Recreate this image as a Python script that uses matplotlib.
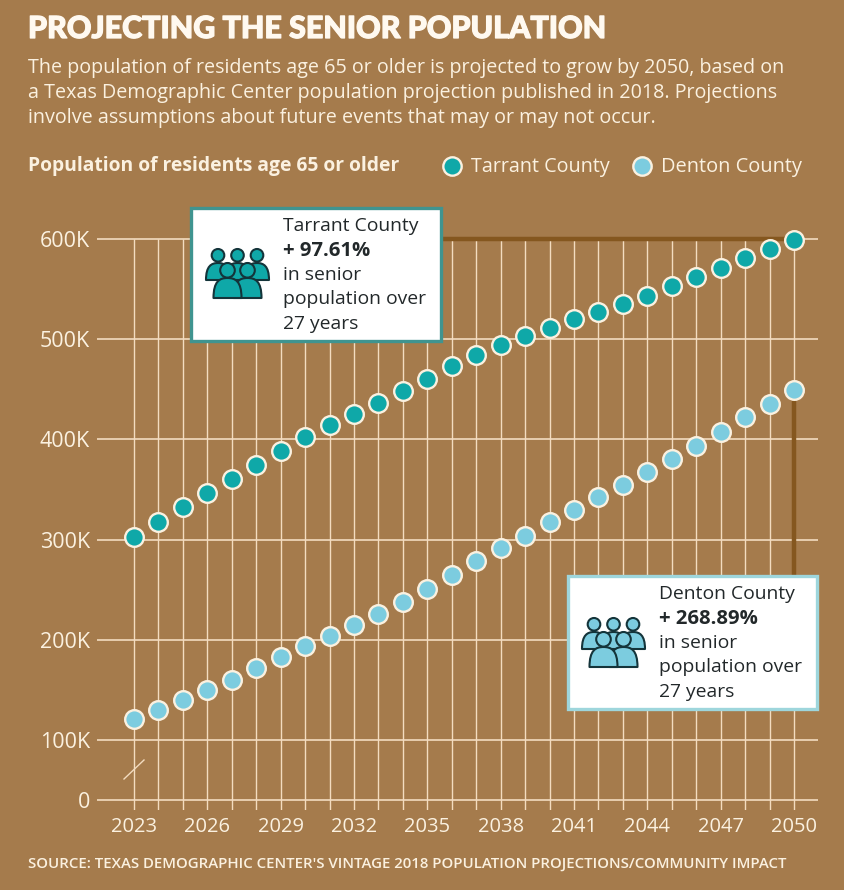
import matplotlib
matplotlib.use("Agg")
import matplotlib.pyplot as plt
from matplotlib.patches import Rectangle, Circle, PathPatch
from matplotlib.path import Path
import matplotlib.patheffects as pe
import numpy as np

years = list(range(2023, 2051))
tarrant = [303, 317, 332, 346, 360, 374, 388, 402, 414, 425, 436, 448, 460, 473,
           484, 494, 503, 511, 520, 527, 535, 543, 553, 562, 571, 581, 590, 599]
denton = [121, 130, 140, 150, 160, 172, 183, 194, 204, 215, 226, 238, 251, 265,
          279, 292, 304, 317, 329, 342, 354, 367, 380, 393, 407, 422, 435, 449]
y_ticks = [0, 100, 200, 300, 400, 500, 600]
y_labels = ["0", "100K", "200K", "300K", "400K", "500K", "600K"]
x_ticks = list(range(2023, 2051, 3))

BG = "#a57b4c"
GRID = "#f3dcc0"
CREAM = "#fbf1e0"
DARK = "#85571f"
TEAL = "#0fa8a8"
LBLUE = "#7cccdf"
INK = "#14343a"
FONT = "Open Sans"
W, H = 844, 890
plt.rcParams["font.family"] = [FONT, "DejaVu Sans"]

fig = plt.figure(figsize=(W / 100, H / 100), dpi=100, facecolor=BG)

L, R, T, B = 97, 818, 239, 810
ax = fig.add_axes([L / W, 1 - B / H, (R - L) / W, (B - T) / H], facecolor="none")


def fwd(v):
    v = np.asarray(v, dtype=float)
    return np.where(v >= 100, v, 40 + 0.6 * v)


def inv(u):
    u = np.asarray(u, dtype=float)
    return np.where(u >= 100, u, (u - 40) / 0.6)


ax.set_yscale("function", functions=(fwd, inv))
px_per_year = (794 - 134) / 27
ax.set_xlim(2023 + (L - 134) / px_per_year, 2023 + (R - 134) / px_per_year)
ax.set_ylim(float(inv(40 - 10)), 600)

for s in ax.spines.values():
    s.set_visible(False)
ax.set_yticks(y_ticks, y_labels)
ax.set_xticks(x_ticks)
ax.tick_params(length=0, colors=CREAM)
ax.tick_params(axis="y", labelsize=15.5, pad=5)
ax.tick_params(axis="x", labelsize=14.5, pad=5)
for lab in ax.get_yticklabels() + ax.get_xticklabels():
    lab.set_fontweight("medium")

for yr in years:
    ax.plot([yr, yr], [ax.get_ylim()[0], 600], color=GRID, lw=1.0, zorder=1,
            solid_capstyle="butt")
for v in y_ticks:
    ax.plot(ax.get_xlim(), [v, v], color=GRID, lw=1.2, zorder=1, clip_on=False,
            solid_capstyle="butt")

ax.plot([2035.0, 2050], [600, 600], color=DARK, lw=3.2, zorder=2, clip_on=False,
        solid_capstyle="butt")
ax.plot([2050, 2050], [449, 190], color=DARK, lw=3.2, zorder=2, solid_capstyle="butt")

ax.plot(years, tarrant, ls="none", marker="o", ms=13.4, mfc=TEAL, mec=CREAM, mew=1.7,
        zorder=4, clip_on=False)
ax.plot(years, denton, ls="none", marker="o", ms=13.4, mfc=LBLUE, mec=CREAM, mew=1.7,
        zorder=4, clip_on=False)

ov = fig.add_axes([0, 0, 1, 1], facecolor="none")
ov.set_xlim(0, W)
ov.set_ylim(H, 0)
ov.axis("off")

ov.plot([124, 144], [779, 760], color=GRID, lw=1.0, zorder=3)

title = ov.text(28, 29, "PROJECTING THE SENIOR POPULATION", fontsize=21.9, fontweight="black",
                family="Lato", color="#fff9f0", va="center", ha="left")
title.set_path_effects([pe.withStroke(linewidth=0.9, foreground="#fff9f0")])
for i, line in enumerate([
    "The population of residents age 65 or older is projected to grow by 2050, based on",
    "a Texas Demographic Center population projection published in 2018. Projections",
    "involve assumptions about future events that may or may not occur.",
]):
    ov.text(28, 68.5 + i * 24.5, line, fontsize=14.2, color=CREAM, va="center", ha="left")

ov.text(28, 166, "Population of residents age 65 or older", fontsize=13.9, fontweight="bold",
        color=CREAM, va="center", ha="left")
ov.scatter([452], [166], s=175, color=TEAL, edgecolor=CREAM, linewidth=1.7, zorder=3)
ov.text(471, 167, "Tarrant County", fontsize=14.2, color=CREAM, va="center")
ov.scatter([642], [166], s=175, color=LBLUE, edgecolor=CREAM, linewidth=1.7, zorder=3)
ov.text(661, 167, "Denton County", fontsize=14.4, color=CREAM, va="center")
ov.text(28, 864, "SOURCE: TEXAS DEMOGRAPHIC CENTER'S VINTAGE 2018 POPULATION PROJECTIONS/COMMUNITY IMPACT",
        fontsize=10.8, fontweight="semibold", color=CREAM, va="center")


def person(cx, top, r, bw, body_top, body_bot, color, z):
    body = Path([(cx - bw, body_bot), (cx - bw, body_top + 3), (cx - bw * 0.55, body_top),
                 (cx, body_top), (cx + bw * 0.55, body_top), (cx + bw, body_top + 3),
                 (cx + bw, body_bot), (cx - bw, body_bot)],
                [Path.MOVETO, Path.CURVE4, Path.CURVE4, Path.CURVE4, Path.CURVE4, Path.CURVE4,
                 Path.CURVE4, Path.CLOSEPOLY])
    ov.add_patch(PathPatch(body, fc=color, ec=INK, lw=1.5, zorder=z, joinstyle="round"))
    ov.add_patch(Circle((cx, top + r), r, fc=color, ec=INK, lw=1.5, zorder=z))


def icon(ox, oy, color):
    for dx in (0, 19.5, 39):
        person(ox + dx, oy, 6.3, 12, oy + 14, oy + 31, color, 7)
    person(ox + 29.5, oy + 14, 7.3, 14, oy + 29, oy + 49, color, 7.2)
    person(ox + 9.5, oy + 14, 7.3, 14, oy + 29, oy + 49, color, 7.4)


def callout(x0, y0, x1, y1, edge, color, icon_x, icon_y, tx, lines):
    ov.add_patch(Rectangle((x0, y0), x1 - x0, y1 - y0, fc="white", ec=edge, lw=2.4, zorder=6))
    icon(icon_x, icon_y, color)
    ty = y0 + 18
    for i, (s, bold) in enumerate(lines):
        ov.text(tx, ty + i * 24.5, s, fontsize=14.6 if bold else 13.9, color="#22282a",
                va="center", ha="left", fontweight="bold" if bold else "normal", zorder=8)


callout(191, 208, 441, 341, "#3f9490", TEAL, 218, 249, 283, [
    ("Tarrant County", False), ("+ 97.61%", True), ("in senior", False),
    ("population over", False), ("27 years", False)])
callout(568, 576, 817, 709, "#9ed6dc", LBLUE, 594, 618, 659, [
    ("Denton County", False), ("+ 268.89%", True), ("in senior", False),
    ("population over", False), ("27 years", False)])

fig.savefig("out.png", dpi=100, facecolor=BG)
